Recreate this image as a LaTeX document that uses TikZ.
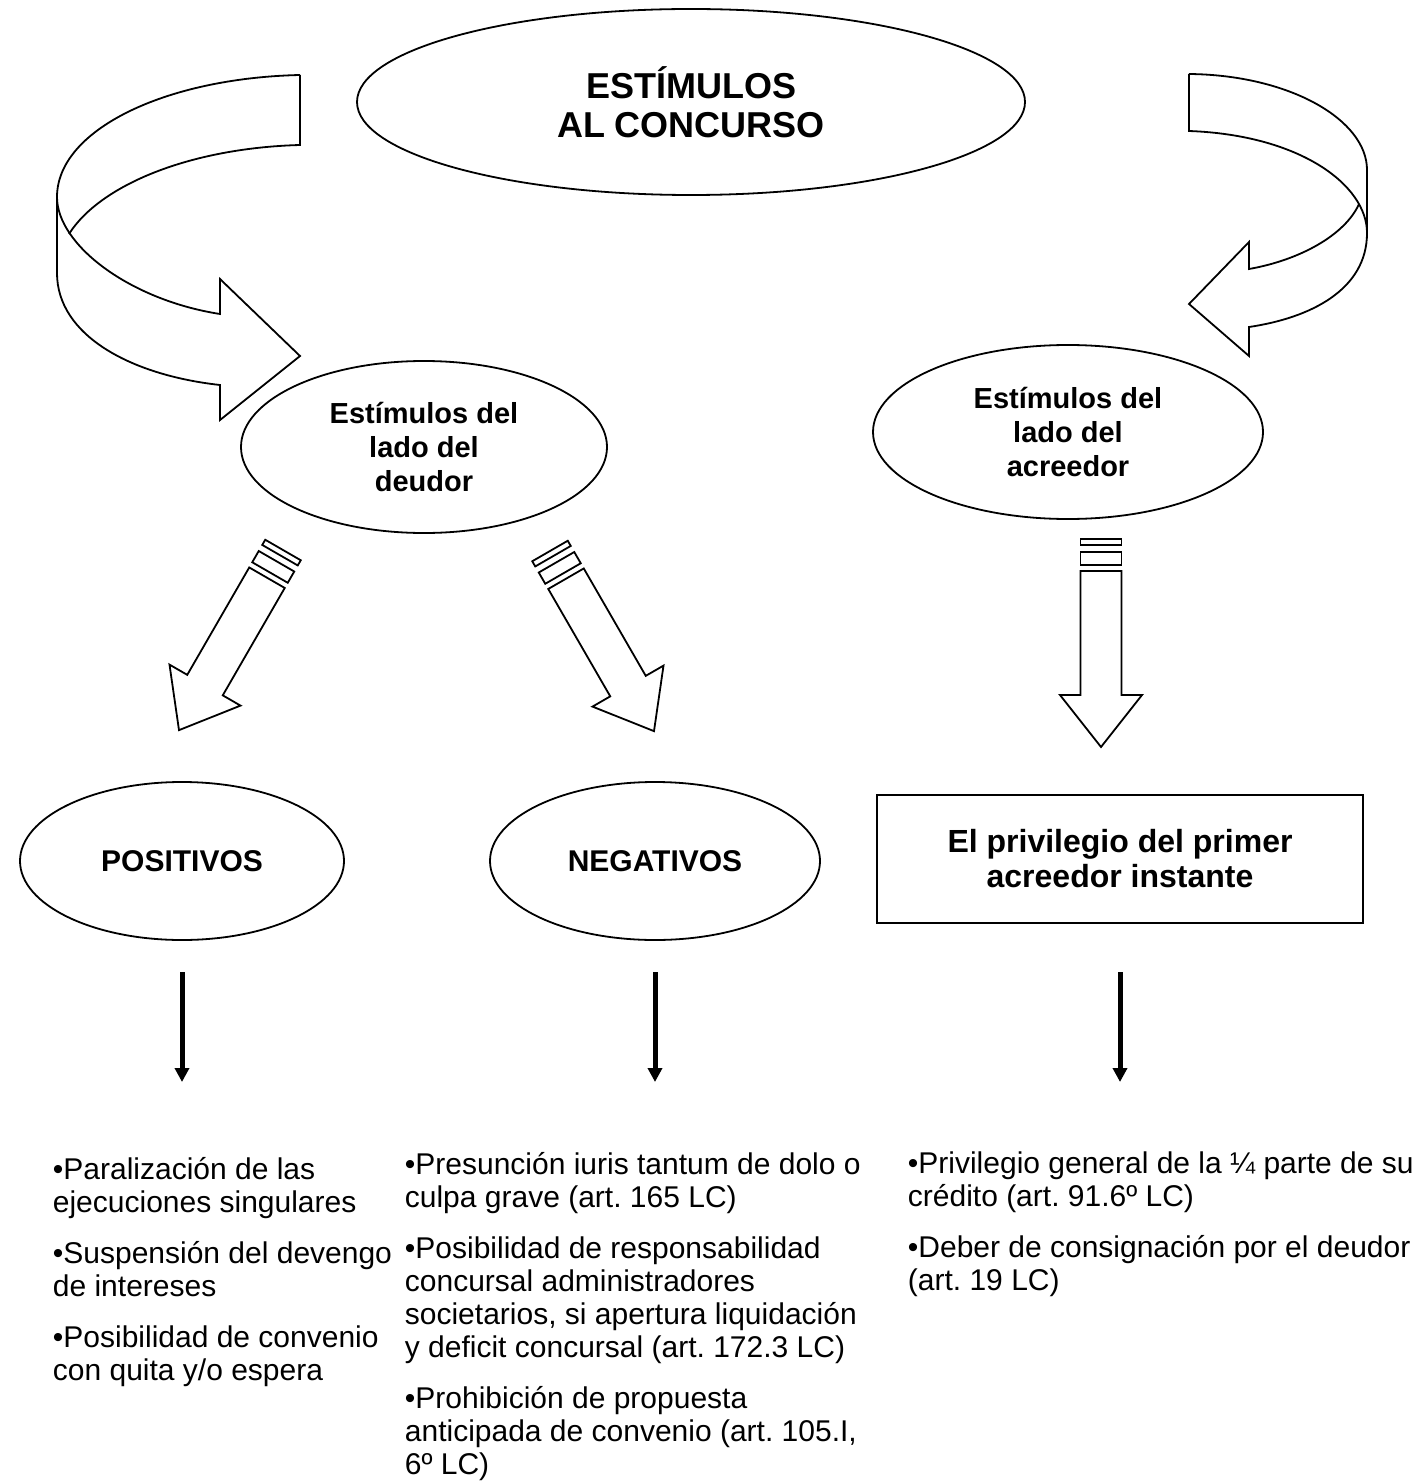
\documentclass[tikz,border=0pt]{standalone}
\usepackage{fontspec}
\setmainfont{Liberation Sans}
\usetikzlibrary{shapes,positioning,arrows.meta}
\frenchspacing

\tikzset{stripedarrow/.pic={
	\draw (-20.5,0) rectangle (20.5,6);
	\draw (-20.5,13) rectangle (20.5,26);
	\draw (-20.5,32) -- (-20.5,156) -- (-41,156) -- (0,208) -- (41,156) -- (20.5,156) -- (20.5,32) -- cycle;
}}

\begin{document}
\begin{tikzpicture}[x=0.5pt,y=-0.5pt,line width=0.9pt,
	oval/.style = {draw, ellipse, inner sep=0pt, align=center, font=\bfseries\fontsize{14.5}{17}\selectfont},
	box/.style = {draw, rectangle, inner sep=0pt, align=center, font=\bfseries\fontsize{16}{17.5}\selectfont},
	item/.style = {anchor=base west, align=left, inner sep=0pt, font=\fontsize{15}{16.5}\selectfont},
	blk/.style = {line width=2.5pt, -{Triangle[width=7pt,length=7pt]}}]
	\useasboundingbox (0,0) rectangle (1422,1481);
	\node[oval, minimum width=334pt, minimum height=93pt, font=\bfseries\fontsize{18}{19.5}\selectfont] (top) at (691,102) {ESTÍMULOS\\AL CONCURSO};
	\node[oval, minimum width=183pt, minimum height=86pt] (deudor) at (424,447) {Estímulos del\\lado del\\deudor};
	\node[oval, minimum width=195pt, minimum height=87pt] (acreedor) at (1068,432) {Estímulos del\\lado del\\acreedor};
	\node[oval, minimum width=162pt, minimum height=79pt, font=\bfseries\fontsize{15}{17}\selectfont] (pos) at (182,861) {POSITIVOS};
	\node[oval, minimum width=165pt, minimum height=79pt, font=\bfseries\fontsize{15}{17}\selectfont] (neg) at (655,861) {NEGATIVOS};
	\node[box, minimum width=243pt, minimum height=64pt] (priv) at (1120,859) {El privilegio del primer\\acreedor instante};
	\node[item] (poslist) at (52,1380) {•Paralización de las\\ejecuciones singulares\\[9pt]•Suspensión del devengo\\de intereses\\[9pt]•Posibilidad de convenio\\con quita y/o espera};
	\node[item] (neglist) at (404,1474) {•Presunción iuris tantum de dolo o\\culpa grave (art. 165 LC)\\[9pt]•Posibilidad de responsabilidad\\concursal administradores\\societarios, si apertura liquidación\\y deficit concursal (art. 172.3 LC)\\[9pt]•Prohibición de propuesta\\anticipada de convenio (art. 105.I,\\6º LC)};
	\node[item] (privlist) at (907,1290) {•Privilegio general de la ¼ parte de su\\crédito (art. 91.6º LC)\\[9pt]•Deber de consignación por el deudor\\(art. 19 LC)};
	\coordinate (startrow) at (0,972);
	\coordinate (tiprow) at (0,1082);
	\draw (300,75) .. controls (165,78) and (57,130) .. (57,197) -- (57,273) .. controls (57,335) and (130,375) .. (220,385) -- (220,420) -- (300,356) -- (220,279) -- (220,314) .. controls (130,300) and (57,245) .. (57,197);
	\draw (300,75) -- (300,145) .. controls (190,148) and (100,185) .. (69,234);
	\draw (1189,74) .. controls (1290,75) and (1367,120) .. (1367,170) -- (1367,233) .. controls (1367,290) and (1310,318) .. (1249,327) -- (1249,356) -- (1189,304) -- (1249,242) -- (1249,269) .. controls (1300,260) and (1345,235) .. (1359,204);
	\draw (1189,74) -- (1189,131) .. controls (1300,135) and (1367,185) .. (1367,233);
	\pic[rotate=-30] at (283,550) {stripedarrow};
	\pic[rotate=30] at (550,551) {stripedarrow};
	\pic at (1101,539) {stripedarrow};
	\draw[blk] (pos.south |- startrow) -- (pos.south |- tiprow);
	\draw[blk] (neg.south |- startrow) -- (neg.south |- tiprow);
	\draw[blk] (priv.south |- startrow) -- (priv.south |- tiprow);
\end{tikzpicture}
\end{document}
